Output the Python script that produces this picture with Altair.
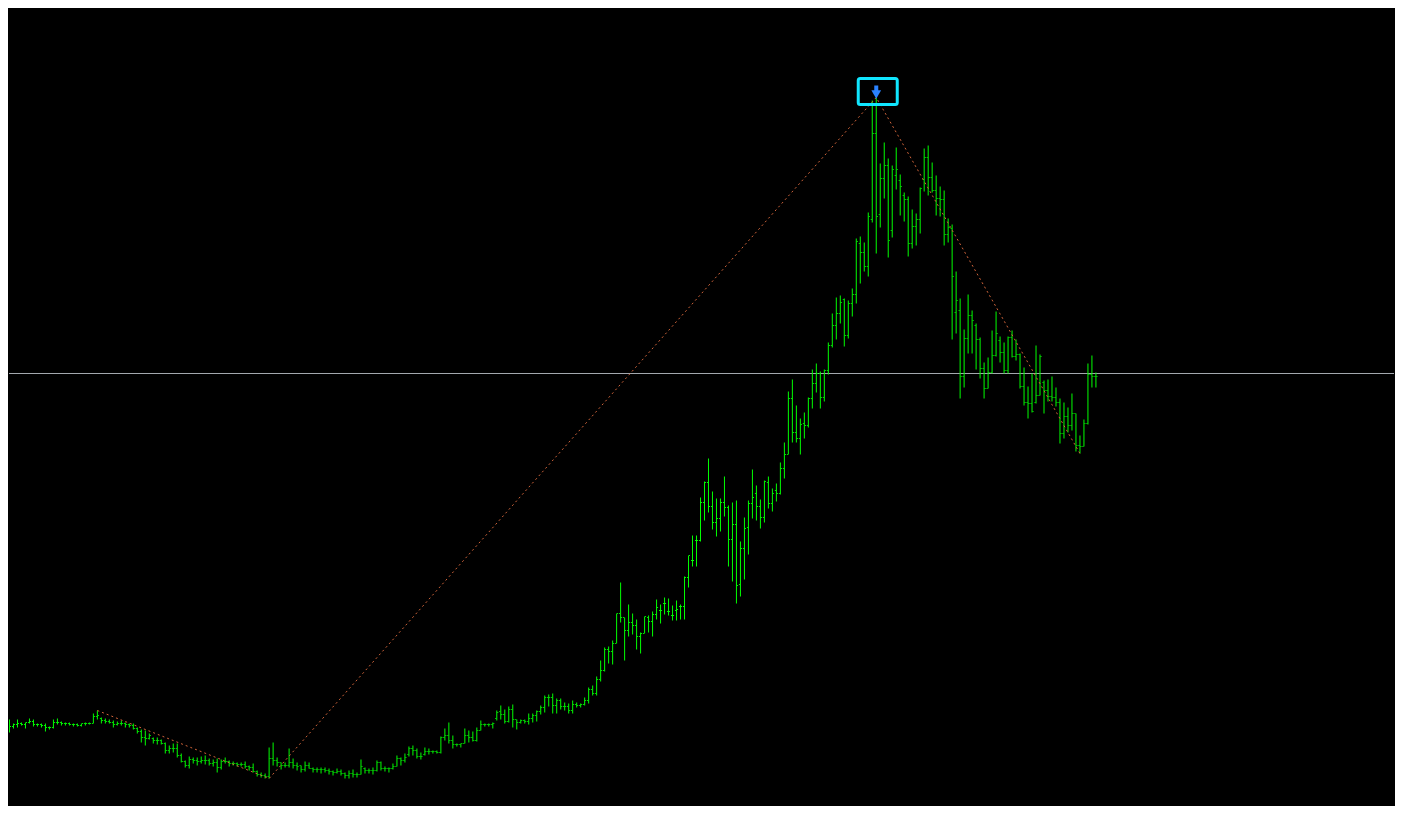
import altair as alt
import pandas as pd

# OHLC values (price units; larger number = lower price level on screen scale)
HIGH = [
    721,722,719,723,719,722,722,718,719,723,
    723,723,726,719,718,721,722,722,723,723,
    723,722,722,713,710,717,718,719,720,721,
    720,722,723,723,727,729,730,733,737,737,
    739,742,745,743,743,753,760,756,757,757,
    756,755,758,759,758,759,757,760,761,762,
    762,761,765,763,770,772,773,747,742,757,
    762,762,748,758,762,765,761,762,767,767,
    767,767,768,770,768,769,772,770,769,772,
    759,767,768,767,760,761,766,767,763,755,
    757,753,746,745,748,752,747,748,750,750,
    736,728,722,735,743,743,728,730,731,727,
    720,723,723,722,710,705,709,706,704,719,
    719,719,713,713,710,705,695,694,693,698,
    698,702,703,700,702,703,697,687,685,676,
    660,647,646,640,613,582,617,604,613,619,
    632,616,615,611,599,604,597,598,605,600,
    604,576,555,535,535,497,481,458,491,498,
    498,476,505,502,500,541,517,500,469,485,
    499,480,476,488,483,462,442,391,379,405,
    418,412,397,369,363,371,369,342,313,297,
    295,298,300,288,238,236,242,212,100,97,
    163,142,158,165,147,174,192,196,209,213,
    187,148,145,162,175,186,190,218,224,271,
    298,329,294,310,323,337,362,357,330,311,
    336,342,336,330,339,353,367,386,373,345,
    354,380,379,376,387,398,402,407,393,413,
    435,419,363,355,372,
]
LOW = [
    729,728,732,728,727,725,728,723,726,726,
    727,731,729,728,724,725,725,725,726,726,
    726,725,724,723,719,723,723,723,727,725,
    725,727,727,729,733,742,745,739,743,744,
    744,753,753,752,757,762,767,768,763,765,
    763,764,765,766,772,769,763,766,765,766,
    766,768,770,772,776,777,778,778,765,766,
    769,767,767,768,770,772,771,768,772,772,
    773,772,774,775,773,775,778,778,777,777,
    774,773,773,774,771,770,771,772,769,766,
    765,762,756,755,758,759,755,754,753,753,
    753,740,743,748,746,747,743,742,741,741,
    730,726,726,728,720,719,723,722,727,729,
    723,723,724,722,721,714,712,706,713,713,
    709,710,713,713,707,707,705,703,695,695,
    681,671,663,664,643,622,660,636,634,649,
    653,633,632,636,619,623,614,615,620,620,
    619,619,587,566,566,541,520,512,529,536,
    531,516,566,581,603,596,579,554,518,520,
    528,522,508,511,501,494,478,454,442,442,
    454,438,427,408,392,408,401,374,347,339,
    323,346,338,316,303,283,271,276,222,253,
    227,198,257,237,189,215,221,256,248,245,
    233,191,195,192,215,216,245,242,339,333,
    398,387,353,353,369,378,398,388,373,356,
    362,373,373,357,360,388,405,418,412,403,
    395,413,401,401,406,443,438,432,430,451,
    453,446,424,387,387,
]
OPEN = [
    726,725,724,726,724,723,724,722,721,724,
    724,725,727,727,722,722,723,723,724,724,
    725,723,723,723,716,718,720,721,722,724,
    723,723,724,725,728,731,737,738,738,740,
    740,743,750,748,748,755,761,765,759,760,
    761,760,760,763,762,767,761,761,763,763,
    764,764,766,767,771,774,775,776,758,760,
    762,765,765,762,765,765,769,765,768,769,
    769,769,770,771,772,771,773,775,773,774,
    774,768,770,770,770,762,768,768,768,766,
    758,760,754,748,750,756,754,751,751,751,
    752,737,735,740,744,744,743,735,737,740,
    730,724,724,724,718,711,714,721,709,719,
    722,720,721,718,715,711,707,697,697,705,
    700,706,706,710,704,705,704,700,689,693,
    679,670,649,651,643,613,617,630,622,625,
    636,633,617,621,614,610,603,611,615,610,
    606,606,577,560,540,540,502,482,506,522,
    518,502,507,539,524,584,548,527,503,493,
    506,517,482,503,490,493,468,454,398,432,
    438,423,425,398,383,373,397,370,345,325,
    313,299,335,303,294,243,252,266,219,133,
    214,178,165,230,175,180,195,199,243,226,
    219,179,157,177,190,198,199,234,228,312,
    310,376,338,315,325,339,368,388,372,355,
    340,352,370,337,356,354,386,402,403,402,
    395,382,390,396,397,402,433,416,425,413,
    445,446,423,374,376,
]
CLOSE = [
    725,724,726,724,723,724,722,721,724,724,
    725,727,727,722,722,723,723,724,724,725,
    723,723,723,716,715,720,721,722,724,723,
    723,724,725,728,731,737,738,735,740,740,
    743,750,748,748,755,761,765,759,760,761,
    760,760,763,762,767,761,761,763,763,764,
    764,766,767,771,774,775,776,758,760,762,
    765,765,762,765,766,769,765,768,769,769,
    769,770,771,772,771,773,775,773,774,774,
    766,770,770,770,762,768,768,768,766,758,
    760,757,748,750,756,756,751,751,751,752,
    737,735,740,744,744,743,735,737,740,730,
    724,724,724,723,712,714,721,709,719,722,
    720,721,718,715,711,707,697,697,705,700,
    706,706,710,704,705,704,700,689,693,679,
    670,649,651,643,613,617,630,622,625,636,
    633,616,621,614,607,610,603,611,615,609,
    606,577,555,560,540,502,482,506,522,518,
    502,507,539,524,585,548,528,503,497,506,
    517,481,503,493,493,468,454,398,432,438,
    424,425,398,383,373,397,370,345,325,313,
    302,335,303,294,241,252,266,216,133,216,
    178,165,240,169,169,186,199,243,226,219,
    188,157,177,190,198,199,234,227,276,300,
    376,338,315,320,339,368,388,372,355,333,
    352,370,337,356,354,386,402,403,411,395,
    356,390,396,397,402,433,416,425,413,445,
    446,423,374,376,376,
]

# ZigZag turning points (bar index, price)
ZZ_BAR = [24, 67, 219, 270]
ZZ_PRICE = [710, 778, 97, 453]

# current bid level
BID = [373]

# sell arrow marker on the top bar
ARROW_BAR = [219]
ARROW_PRICE = [97]

n = len(HIGH)
bars = pd.DataFrame({
    "bar": list(range(n)),
    "high": HIGH,
    "low": LOW,
    "open": OPEN,
    "close": CLOSE,
})
zz = pd.DataFrame({"bar": ZZ_BAR, "price": ZZ_PRICE})
bid = pd.DataFrame({"price": BID})
arrow = pd.DataFrame({"bar": ARROW_BAR, "price": ARROW_PRICE})

W, H = 1387, 798
xscale = alt.Scale(domain=[1.875, 1.875 + W / 4], nice=False, zero=False)
yscale = alt.Scale(domain=[805.5, 7.5], nice=False, zero=False)

GREEN = "#00ff00"

X = alt.X("bar:Q", scale=xscale, axis=None)
Y = lambda f: alt.Y(f"{f}:Q", scale=yscale, axis=None)

bid_line = alt.Chart(bid).mark_rule(color="#a3a8ae", strokeWidth=1).encode(
    y=Y("price")
)

hl = alt.Chart(bars).mark_rule(color=GREEN, strokeWidth=1, clip=True).encode(
    x=X, y=Y("low"), y2=alt.Y2("high")
)
op = alt.Chart(bars).mark_rule(color=GREEN, strokeWidth=1, clip=True,
                               xOffset=-1.5, x2Offset=-0.5).encode(
    x=X, x2=alt.X2("bar"), y=Y("open")
)
cl = alt.Chart(bars).mark_rule(color=GREEN, strokeWidth=1, clip=True,
                               xOffset=0.5, x2Offset=1.5).encode(
    x=X, x2=alt.X2("bar"), y=Y("close")
)

zigzag = alt.Chart(zz).mark_line(color="#d0643a", strokeWidth=1,
                                 strokeDash=[2, 3]).encode(
    x=X, y=Y("price")
)

box = alt.Chart(arrow).mark_rect(fillOpacity=0, stroke="#10e6ff", strokeWidth=3,
                                 cornerRadius=2,
                                 xOffset=-18, x2Offset=21,
                                 yOffset=-19, y2Offset=7).encode(
    x=X, x2=alt.X2("bar"), y=Y("price"), y2=alt.Y2("price")
)
stem = alt.Chart(arrow).mark_rule(color="#2a82ff", strokeWidth=4,
                                  yOffset=-12, y2Offset=-4).encode(
    x=X, y=Y("price"), y2=alt.Y2("price")
)
head = alt.Chart(arrow).mark_point(shape="triangle-down", filled=True,
                                   color="#2a82ff", opacity=1, size=95,
                                   yOffset=-3).encode(
    x=X, y=Y("price")
)

chart = alt.layer(bid_line, hl, op, cl, zigzag, box, stem, head).properties(
    width=W, height=H, padding=0, background="#000000",
    autosize=alt.AutoSizeParams(type="fit", contains="padding"),
).configure_view(stroke=None, fill="#000000")

chart.save("out.html", embed_options={"renderer": "svg", "actions": False})
